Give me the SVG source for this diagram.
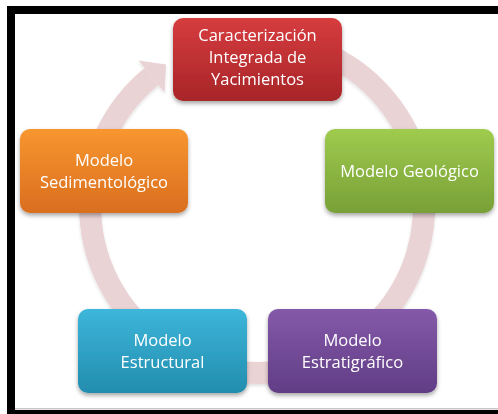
<svg xmlns="http://www.w3.org/2000/svg" width="498" height="414" viewBox="0 0 498 414">
<style>
.lbl{font-family:"Open Sans","Liberation Sans",sans-serif;font-size:16.5px;fill:#ffffff;text-anchor:middle}
.frame{fill:#000000}
</style>
<defs>
<filter id="sh" x="-10%" y="-10%" width="120%" height="130%">
<feDropShadow dx="0" dy="2.5" stdDeviation="2" flood-color="#000" flood-opacity="0.35"/>
</filter>
<filter id="rsh" x="-10%" y="-10%" width="120%" height="120%">
<feDropShadow dx="0" dy="2" stdDeviation="1.5" flood-color="#000" flood-opacity="0.12"/>
</filter>
<linearGradient id="gRed" x1="0" y1="0" x2="0" y2="1"><stop offset="0" stop-color="#D63C3F"/><stop offset="1" stop-color="#A72528"/></linearGradient>
<linearGradient id="gGreen" x1="0" y1="0" x2="0" y2="1"><stop offset="0" stop-color="#9FCB4E"/><stop offset="1" stop-color="#78A037"/></linearGradient>
<linearGradient id="gOrange" x1="0" y1="0" x2="0" y2="1"><stop offset="0" stop-color="#F8962F"/><stop offset="1" stop-color="#D96E1F"/></linearGradient>
<linearGradient id="gCyan" x1="0" y1="0" x2="0" y2="1"><stop offset="0" stop-color="#3CB6DA"/><stop offset="1" stop-color="#238DAE"/></linearGradient>
<linearGradient id="gPurple" x1="0" y1="0" x2="0" y2="1"><stop offset="0" stop-color="#8459A9"/><stop offset="1" stop-color="#613D85"/></linearGradient>
</defs>
<rect width="498" height="414" fill="#ffffff"/>
<g id="frame">
<rect class="frame" x="7" y="6" width="491" height="8"/>
<rect class="frame" x="7" y="6" width="8" height="408"/>
<rect class="frame" x="7" y="410" width="491" height="4"/>
<rect x="15" y="408" width="483" height="1.5" fill="#c8c8c8"/>
</g>
<g id="connectors" filter="url(#rsh)">
<path d="M257 39 A167 167 0 1 1 151.5 76.6" fill="none" stroke="#EAD3D5" stroke-width="22"/>
<polygon points="138.5,60.6 164.5,92.6 166,64.5" fill="#EAD3D5"/>
</g>
<g id="n1" filter="url(#sh)">
<rect x="173" y="18" width="169" height="83" rx="10" fill="url(#gRed)"/>
<text class="lbl" x="257.5" y="41">Caracterización</text>
<text class="lbl" x="257.5" y="63">Integrada de</text>
<text class="lbl" x="257.5" y="85">Yacimientos</text>
</g>
<g id="n2" filter="url(#sh)">
<rect x="325" y="129" width="169" height="84" rx="10" fill="url(#gGreen)"/>
<text class="lbl" x="409.5" y="176.5">Modelo Geológico</text>
</g>
<g id="n3" filter="url(#sh)">
<rect x="268" y="309" width="169" height="84" rx="10" fill="url(#gPurple)"/>
<text class="lbl" x="352.5" y="346">Modelo</text>
<text class="lbl" x="352.5" y="368">Estratigráfico</text>
</g>
<g id="n4" filter="url(#sh)">
<rect x="78" y="309" width="169" height="84" rx="10" fill="url(#gCyan)"/>
<text class="lbl" x="162.5" y="346">Modelo</text>
<text class="lbl" x="162.5" y="368">Estructural</text>
</g>
<g id="n5" filter="url(#sh)">
<rect x="20" y="129" width="168" height="84" rx="10" fill="url(#gOrange)"/>
<text class="lbl" x="104" y="166">Modelo</text>
<text class="lbl" x="104" y="188">Sedimentológico</text>
</g>
</svg>
